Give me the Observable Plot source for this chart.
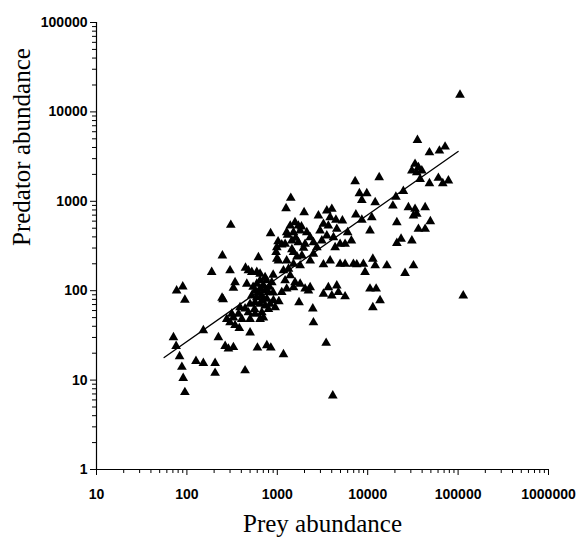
<!DOCTYPE html>
<html><head><meta charset="utf-8">
<script src="https://cdn.jsdelivr.net/npm/d3@7"></script>
<script src="https://cdn.jsdelivr.net/npm/@observablehq/plot@0.6"></script>
<style>body{margin:0;background:#fff}</style>
</head><body><div id="chart"></div>
<script>
const prey = [
  77,90,95,71,76,83,88,91,95,
  126,152,152,205,205,223,188,247,245,252,300,341,327,265,288,327,440,500,603,766,848,276,300,341,380,314,306,1170,1040,798,1740,2470,2510,3470,4110,
  618,988,1030,445,479,522,593,645,733,869,460,593,645,568,645,733,798,522,593,674,766,906,500,568,645,733,832,946,387,440,479,568,674,372,327,405,500,645,702,
  560,620,700,760,820,680,900,540,900,
  1410,1250,1980,843,2850,3530,4010,4450,3840,5250,3240,3670,2970,4550,6000,6600,7400,8610,11100,10600,
  1390,1570,1710,1790,1510,1270,2120,2310,2510,2030,1710,1450,1220,2740,3110,3530,4180,4950,4360,5620,
  1300,1600,1850,1450,1650,1950,
  1020,1120,970,988,
  1510,1870,2510,1270,1510,1790,2310,
  1170,1330,1390,1220,1570,1790,2030,2310,1270,1510,1120,2210,
  35500,48200,62100,71800,33400,36400,30800,39700,34900,38000,48200,60500,67700,78100,
  13400,7260,8100,9770,8610,12100,19000,20500,24800,
  28200,33400,32100,34900,43200,49300,43200,36400,21000,21000,23400,30800,
  25900,32100,114000,105000,
  3240,3840,4950,5620,6950,7570,8960,9350,11400,12100,16300,
  3240,3670,4010,4550,4740,5620,10600,12400,13700,11400
];
const predator = [
  100,111,79,30,24,18.4,14,10.5,7.3,
  16.3,15.5,36,15.5,12,30,161,247,83,80,168,124,107,24,22.4,23.3,12.8,34,23,24.4,23,48,44,41,38,55,543,19.4,76,62,74,63,44,26,6.7,
  236,227,217,180,168,161,161,154,141,124,119,119,130,100,105,100,96,88,84,88,81,78,71,74,71,68,71,65,65,63,57,55,57,55,50,48,48,48,50,
  62,95,115,130,110,78,95,110,150,
  1088,832,751,438,690,785,820,620,660,607,557,533,469,490,449,363,710,620,660,469,
  533,581,533,469,449,449,449,395,347,333,347,363,333,305,363,413,395,333,305,333,
  420,390,520,290,240,300,
  355,327,269,305,
  269,247,258,217,199,191,217,
  168,175,148,130,124,119,105,109,105,109,96,100,
  4830,3510,3670,4070,2610,2390,2200,2200,2100,1770,1585,1820,1585,1700,
  1850,1670,1225,1225,1030,972,890,1120,1300,
  855,820,690,721,855,596,490,490,581,340,380,363,
  157,191,88,15500,
  196,217,199,199,199,196,199,161,227,191,191,
  92,109,88,114,96,86,105,105,78,65
];
const xTicks = [10,100,1000,10000,100000,1000000];
const yTicks = [1,10,100,1000,10000,100000];
// fitted line (log10 predator = intercept + slope * log10 prey)
const fitSlope = 0.709, fitIntercept = 0.013;
const fitRange = [56, 100000];

const points = prey.map((p, i) => ({prey: p, predator: predator[i]}));
const fitLine = fitRange.map(x => ({x, y: Math.pow(10, fitIntercept + fitSlope * Math.log10(x))}));
const minor = ticks => ticks.slice(0, -1).flatMap(d => [2,3,4,5,6,7,8,9].map(k => d * k));

const chart = Plot.plot({
  width: 577, height: 545,
  marginLeft: 96, marginRight: 29, marginTop: 22, marginBottom: 76,
  x: {type: "log", domain: [10, 1000000]},
  y: {type: "log", domain: [1, 100000]},
  style: {fontFamily: "'Liberation Sans', Arial, sans-serif", fontSize: "14px", fontWeight: "bold", color: "#000", background: "#fff"},
  marks: [
    Plot.axisX(minor(xTicks), {tickSize: 4, tickFormat: () => "", label: null}),
    Plot.axisX(xTicks, {tickSize: 6, tickPadding: 14, tickFormat: d => String(d), label: null}),
    Plot.axisY(minor(yTicks), {tickSize: 4, tickFormat: () => "", label: null}),
    Plot.axisY(yTicks, {tickSize: 6, tickPadding: 3, tickFormat: d => String(d), label: null}),
    Plot.ruleX([10], {strokeWidth: 1.2}),
    Plot.ruleY([1], {strokeWidth: 1.2}),
    Plot.line(fitLine, {x: "x", y: "y", stroke: "black", strokeWidth: 1.3}),
    Plot.dot(points, {x: "prey", y: "predator", symbol: "triangle", r: 3.6, fill: "black", stroke: "none"}),
    Plot.text(["Prey abundance"], {text: d => d, frameAnchor: "bottom", dy: 54, lineAnchor: "middle", fontWeight: "normal", fontFamily: "'Liberation Serif', serif", fontSize: 25}),
    Plot.text(["Predator abundance"], {text: d => d, frameAnchor: "left", dx: -75, rotate: -90, lineAnchor: "middle", fontWeight: "normal", fontFamily: "'Liberation Serif', serif", fontSize: 25})
  ]
});
document.getElementById("chart").appendChild(chart);
</script>
</body></html>
